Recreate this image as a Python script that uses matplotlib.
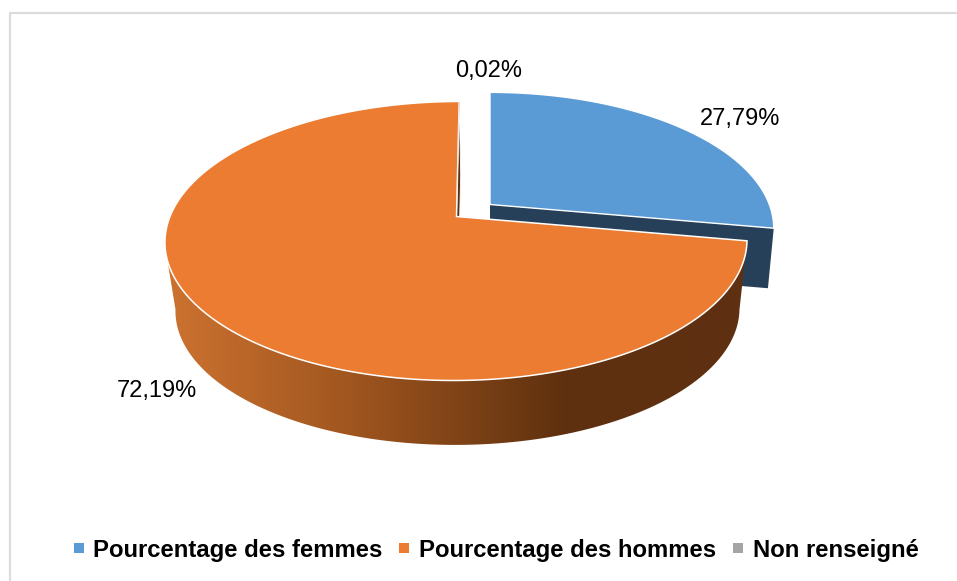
import numpy as np
import matplotlib
matplotlib.use('Agg')
import matplotlib.pyplot as plt
from matplotlib.colors import LinearSegmentedColormap
from matplotlib.patches import Polygon, Rectangle

categories = ['Pourcentage des femmes', 'Pourcentage des hommes', 'Non renseigné']
values = [27.79, 72.19, 0.02]
value_labels = ['27,79%', '72,19%', '0,02%']

colors = ['#5B9BD5', '#EB7C31', '#A5A5A5']
NAVY = '#254058'
BROWN = '#5E3012'


def disc(cx, cy, theta, scale=1.0, skew=3.0):
    # perspective view of a flat circle, theta clockwise from 12 o'clock
    s, t = np.sin(np.radians(theta)), np.cos(np.radians(theta))
    den = 1 + 0.1756 * t
    x = cx + scale * 286.5 * s / den + skew * t
    y = cy - scale * 135.2 * t / den
    return np.column_stack([x, y])


def main():
    fig = plt.figure(figsize=(9.57, 5.81), dpi=100)
    ax = fig.add_axes([0, 0, 1, 1])
    ax.axis('off')

    # frame of the chart area
    ax.plot([9.5, 9.5, 957], [581, 13, 13], color='#DCDCDC', lw=1.6, zorder=1)

    edges = np.cumsum([0] + values) * 3.6

    # exploded slice: women
    a0, a1 = edges[0], edges[1]
    th = np.linspace(a0, a1, 80)
    top = disc(490, 204.5, th, 0.975, 0)
    face = np.vstack([[[490, 204.5]], top[-1:],
                      disc(490, 265, a1, 0.955, 0), [[490, 265]]])
    ax.add_patch(Polygon(face, fc=NAVY, ec='none', zorder=2))
    ax.add_patch(Polygon(np.vstack([[[490, 204.5]], top]), fc=colors[0],
                         ec='white', lw=1, zorder=3))

    # men: side wall with a left to right shading
    a0, a1 = edges[1], edges[2]
    th_top = np.linspace(a0, 252, 120)
    th_low = np.linspace(a0, 260, 120)
    wall = np.vstack([disc(456.5, 216.5, th_top), disc(458, 286, th_low, 0.969)[::-1]])
    cmap = LinearSegmentedColormap.from_list('wall', [
        (0.0, '#CC7230'), (0.315, '#A0561F'), (0.68, '#60310F'), (1.0, BROWN)])
    grad = np.linspace(0, 1, 256).reshape(1, -1)
    im = ax.imshow(grad, cmap=cmap, extent=[168, 746, 460, 230], aspect='auto', zorder=4)
    im.set_clip_path(Polygon(wall, transform=ax.transData))

    # cut face near 12 o'clock, only a sliver of it shows
    cut = np.vstack([[[456.5, 216.5]], disc(456.5, 216.5, a1), disc(458, 286, a1, 0.969), [[458, 286]]])
    ax.add_patch(Polygon(cut, fc=BROWN, ec='white', lw=0.6, zorder=4))

    th = np.linspace(a0, a1, 240)
    ax.add_patch(Polygon(np.vstack([[[456.5, 216.5]], disc(456.5, 216.5, th)]),
                         fc=colors[1], ec='white', lw=1.1, zorder=5))

    # not stated: far too thin to see
    th = np.linspace(edges[2], edges[3], 3)
    ax.add_patch(Polygon(np.vstack([[[456.5, 216.5]], disc(456.5, 216.5, th)]),
                         fc=colors[2], ec='none', zorder=5))

    lab = {'family': 'Liberation Sans', 'ha': 'center', 'va': 'center',
           'fontsize': 17, 'color': 'black', 'zorder': 6}
    ax.text(740, 119.5, value_labels[0], **lab)
    ax.text(157, 391.5, value_labels[1], **lab)
    ax.text(489, 71, value_labels[2], **lab)

    xs = [74, 399, 733]
    text_xs = [93, 419, 753]
    for name, c, x, tx in zip(categories, colors, xs, text_xs):
        ax.add_patch(Rectangle((x, 543), 10, 10, fc=c, ec='none'))
        ax.text(tx, 557, name, family='Liberation Sans', fontweight='bold',
                fontsize=17.2, ha='left', va='baseline', color='black')

    ax.set_xlim(0, 957)
    ax.set_ylim(581, 0)
    fig.savefig('out.png', dpi=100)


if __name__ == "__main__":
    main()
